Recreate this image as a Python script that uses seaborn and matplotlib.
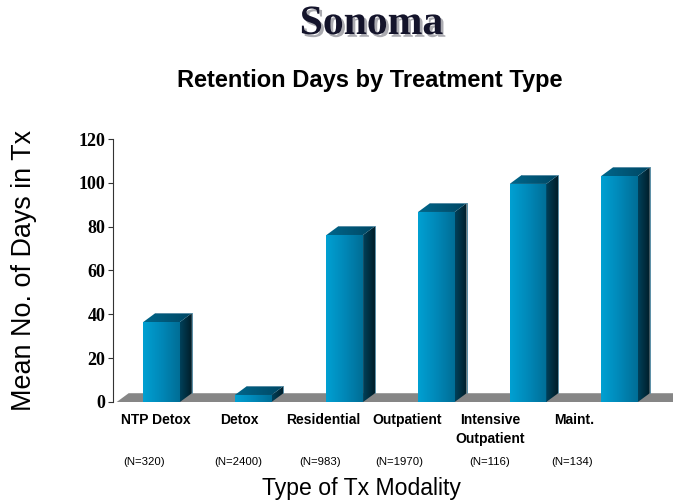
import numpy as np
import pandas as pd
import matplotlib
matplotlib.use("Agg")
import matplotlib.pyplot as plt
import matplotlib.patheffects as pe
import seaborn as sns
from matplotlib.patches import Polygon
from matplotlib.colors import LinearSegmentedColormap

categories = ["NTP Detox", "Detox", "Residential", "Outpatient", "Intensive\nOutpatient", "Maint."]
mean_days = [36.5, 3.2, 76.2, 86.7, 99.5, 103.1]
n_labels = ["(N=320)", "(N=2400)", "(N=983)", "(N=1970)", "(N=116)", "(N=134)"]
y_ticks = [0, 20, 40, 60, 80, 100, 120]

# label placement (layout only, in category-axis units)
cat_label_x = [-0.06, 0.85, 1.76, 2.68, 3.59, 4.50]
n_label_x = [-0.19, 0.835, 1.73, 2.59, 3.58, 4.48]

sns.set_theme(style="white")
plt.rcParams['font.family'] = ['Liberation Sans', 'DejaVu Sans']

fig = plt.figure(figsize=(6.73, 5.04), dpi=100)
ax = fig.add_axes([0.168, 0.2024, 0.832, 0.5218])

df = pd.DataFrame({"cat": categories, "val": mean_days})
sns.barplot(data=df, x="cat", y="val", width=0.4, color="#0090c0", ax=ax,
            saturation=1, zorder=3)

XL = (-0.53, 5.584)
ax.set_xlim(*XL)
ax.set_ylim(0, 120)

dx, dy = 0.13, 4.0

floor = Polygon([(XL[0] + 0.04, 0), (XL[1], 0), (XL[1] + dx, dy), (XL[0] + 0.04 + dx, dy)],
                closed=True, facecolor="#868686", edgecolor="none", zorder=1, clip_on=False)
ax.add_patch(floor)

front_cmap = LinearSegmentedColormap.from_list("f", ["#00a0d2", "#0088b8", "#006e96"])
side_cmap = LinearSegmentedColormap.from_list("s", ["#00415a", "#001d29"])
top_cmap = LinearSegmentedColormap.from_list("t", ["#00668a", "#004764"])
grad = np.linspace(0, 1, 64).reshape(1, -1)

for p in list(ax.patches):
    if p is floor:
        continue
    x0, w, h = p.get_x(), p.get_width(), p.get_height()
    p.set_facecolor("none")
    p.set_edgecolor("none")
    im = ax.imshow(grad, cmap=front_cmap, extent=(x0, x0 + w, 0, h), aspect="auto",
                   zorder=4, interpolation="bilinear")
    im.set_clip_path(p)
    side = Polygon([(x0 + w, 0), (x0 + w + dx, dy), (x0 + w + dx, h + dy), (x0 + w, h)],
                   closed=True, facecolor="none", edgecolor="none", zorder=4)
    ax.add_patch(side)
    ims = ax.imshow(grad, cmap=side_cmap, extent=(x0 + w, x0 + w + dx, 0, h + dy),
                    aspect="auto", zorder=4, interpolation="bilinear")
    ims.set_clip_path(side)
    top = Polygon([(x0, h), (x0 + w, h), (x0 + w + dx, h + dy), (x0 + dx, h + dy)],
                  closed=True, facecolor="none", edgecolor="none", zorder=4)
    ax.add_patch(top)
    imt = ax.imshow(grad, cmap=top_cmap, extent=(x0, x0 + w + dx, h, h + dy),
                    aspect="auto", zorder=4, interpolation="bilinear")
    imt.set_clip_path(top)
    ax.plot([x0 + dx, x0 + w + dx, x0 + w + dx], [h + dy, h + dy, dy],
            color="#5a8ea6", lw=0.7, zorder=5, clip_on=False)

ax.set_xlim(*XL)
ax.set_ylim(0, 120)

for s in ["top", "right", "bottom"]:
    ax.spines[s].set_visible(False)
ax.spines["left"].set_color("#333333")
ax.spines["left"].set_linewidth(0.8)
ax.spines["left"].set_zorder(6)

ax.set_yticks(y_ticks)
ax.set_yticklabels([str(t) for t in y_ticks], family=['Liberation Serif'],
                   fontweight="bold", fontsize=13, color="black")
ax.tick_params(axis="y", left=True, length=3.5, width=0.8, color="#333333", pad=2)
ax.tick_params(axis="x", bottom=False, length=0, pad=8)
ax.set_xticks(cat_label_x)
ax.set_xticklabels(categories, fontweight="bold", fontsize=10, color="black",
                   linespacing=1.4)
ax.set_xlabel("")
ax.set_ylabel("")

trans = ax.get_xaxis_transform()
for xp, lab in zip(n_label_x, n_labels):
    ax.text(xp, -0.228, lab, transform=trans, ha="center", va="center",
            fontsize=8.2, color="black")

fig.text(0.537, 0.030, "Type of Tx Modality", ha="center", va="center",
         fontsize=16.6, color="black")
fig.text(0.035, 0.464, "Mean No. of Days in Tx", ha="center", va="center",
         rotation=90, fontsize=19.4, color="black")

fig.text(0.552, 1 - 24 / 504, "Sonoma", ha="center", va="center",
         fontsize=30, fontweight="bold", family=['Liberation Serif'], color="#14142b",
         path_effects=[pe.withSimplePatchShadow(offset=(2, -2), shadow_rgbFace="#888890",
                                                alpha=0.7)])
fig.text(0.55, 1 - 80 / 504, "Retention Days by Treatment Type", ha="center",
         va="center", fontsize=17, fontweight="bold", color="black")

fig.savefig("out.png", dpi=100)
